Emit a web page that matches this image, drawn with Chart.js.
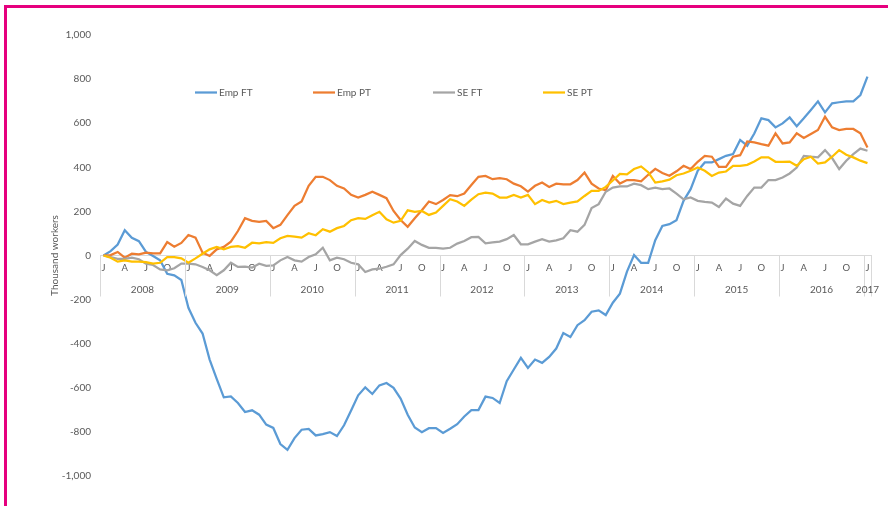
<!DOCTYPE html>
<html>
<head>
<meta charset="utf-8">
<script src="https://cdn.jsdelivr.net/npm/chart.js@4/dist/chart.umd.min.js"></script>
<style>
  html, body { margin: 0; padding: 0; background: #fff; overflow: hidden; }
  #frame { position: absolute; left: 4px; top: 5px; width: 1200px; height: 1200px; border: 3px solid #e6007e; }
  #chart { position: absolute; left: 0; top: 0; }
</style>
</head>
<body>
<div id="frame"></div>
<canvas id="chart" width="888" height="506"></canvas>
<script>
// ---- data: change in thousand workers since Jan 2008, monthly to Jan 2017 ----
const years = [2008, 2009, 2010, 2011, 2012, 2013, 2014, 2015, 2016, 2017];
const monthTicks = ['J', 'A', 'J', 'O'];
const seriesNames = ['Emp FT', 'Emp PT', 'SE FT', 'SE PT'];
const seriesColors = ['#5b9bd5', '#ed7d31', '#a5a5a5', '#ffc000'];

const empFT = [
  0, 20, 50, 115, 80, 65, 16, -2, -22, -83, -90, -111,
  -237, -305, -354, -472, -560, -643, -639, -669, -710, -702, -722, -767,
  -782, -855, -881, -828, -790, -786, -816, -810, -801, -819, -770, -703,
  -634, -598, -628, -589, -578, -600, -649, -722, -780, -801, -783, -783,
  -805, -786, -765, -730, -701, -701, -640, -646, -669, -570, -517, -464,
  -510, -472, -487, -460, -422, -352, -370, -316, -293, -255, -249, -270,
  -214, -173, -73, 2, -33, -33, 69, 134, 142, 160, 248, 301,
  384, 422, 422, 437, 452, 460, 524, 498, 553, 622, 614, 581,
  599, 626, 586, 622, 660, 699, 649, 690, 695, 699, 699, 728,
  811
];
const empPT = [
  0, 2, 16, -10, 8, 5, 13, 10, 10, 61, 40, 57,
  93, 81, 13, -2, 28, 39, 63, 111, 169, 157, 152, 157,
  124, 139, 183, 225, 245, 316, 357, 357, 342, 316, 304, 275,
  263, 275, 289, 275, 260, 202, 161, 130, 169, 205, 245, 233,
  252, 274, 269, 281, 320, 357, 361, 346, 351, 346, 326, 314,
  290, 316, 331, 311, 326, 323, 323, 342, 376, 326, 304, 296,
  361, 326, 342, 342, 336, 366, 393, 374, 362, 382, 407, 392,
  425, 452, 448, 402, 402, 448, 455, 517, 513, 505, 498, 554,
  508, 513, 554, 533, 551, 569, 629, 581, 569, 574, 574, 554,
  490
];
const seFT = [
  0, -7, -15, -15, -10, -17, -37, -43, -63, -67, -58, -37,
  -37, -40, -52, -67, -89, -67, -33, -52, -51, -55, -37, -47,
  -45, -22, -7, -22, -28, -7, 5, 35, -22, -10, -17, -33,
  -40, -75, -63, -60, -51, -40, 2, 31, 66, 48, 35, 35,
  31, 35, 54, 66, 83, 84, 55, 59, 63, 74, 93, 51,
  51, 63, 74, 63, 69, 78, 115, 108, 139, 215, 233, 289,
  308, 313, 313, 326, 319, 301, 308, 301, 304, 281, 255, 263,
  248, 243, 240, 220, 258, 235, 225, 270, 308, 308, 342, 342,
  354, 372, 399, 452, 448, 445, 478, 442, 392, 430, 460, 485,
  475
];
const sePT = [
  0, -10, -28, -22, -28, -28, -30, -37, -33, -7, -7, -13,
  -33, -13, 8, 28, 39, 28, 39, 42, 35, 58, 55, 61,
  57, 78, 89, 86, 81, 101, 92, 119, 108, 124, 134, 160,
  169, 166, 183, 198, 164, 149, 157, 205, 198, 202, 184, 195,
  225, 255, 245, 225, 253, 278, 285, 281, 263, 263, 275, 263,
  275, 233, 252, 240, 248, 233, 240, 245, 270, 293, 293, 311,
  340, 370, 368, 392, 404, 378, 331, 336, 344, 364, 372, 384,
  399, 384, 361, 376, 381, 407, 407, 411, 426, 445, 445, 425,
  425, 426, 407, 437, 448, 417, 422, 448, 478, 457, 445, 430,
  419
];

// one category per month, Jan 2008 .. Jan 2017
const labels = [];
years.forEach(y => { for (let m = 0; m < 12; m++) if (labels.length < empFT.length) labels.push(y + '-' + (m + 1)); });

const FONT = 'Lato, "Open Sans", sans-serif';
const TEXT = '#595959';
const AXIS = '#d9d9d9';

// year row under the month letters, with separators
const yearRow = {
  id: 'yearRow',
  afterDraw(chart) {
    const ctx = chart.ctx, xs = chart.scales.x;
    const y0 = chart.scales.y.getPixelForValue(0);
    const half = (xs.getPixelForValue(1) - xs.getPixelForValue(0)) / 2;
    ctx.save();
    ctx.strokeStyle = AXIS; ctx.lineWidth = 1;
    ctx.fillStyle = TEXT; ctx.font = '10px ' + FONT;
    ctx.textAlign = 'center'; ctx.textBaseline = 'middle';
    years.forEach((yr, k) => {
      const first = k * 12, last = Math.min(first + 11, labels.length - 1);
      const left = xs.getPixelForValue(first) - half;
      const right = xs.getPixelForValue(last) + half;
      ctx.beginPath(); ctx.moveTo(Math.round(left) + 0.5, y0); ctx.lineTo(Math.round(left) + 0.5, y0 + 41); ctx.stroke();
      if (k === years.length - 1) { ctx.beginPath(); ctx.moveTo(Math.round(right) + 0.5, y0); ctx.lineTo(Math.round(right) + 0.5, y0 + 41); ctx.stroke(); }
      ctx.fillText(String(yr), (left + right) / 2, y0 + 34.5);
    });
    ctx.restore();
  }
};

// legend drawn inside the plot, like the spreadsheet original
const innerLegend = {
  id: 'innerLegend',
  afterDraw(chart) {
    const ctx = chart.ctx;
    const xs = [195, 313, 433, 543], y = 92.5;
    ctx.save();
    ctx.font = '10px ' + FONT; ctx.textBaseline = 'middle'; ctx.fillStyle = TEXT;
    chart.data.datasets.forEach((ds, i) => {
      ctx.strokeStyle = ds.borderColor; ctx.lineWidth = 2.25;
      ctx.beginPath(); ctx.moveTo(xs[i], y); ctx.lineTo(xs[i] + 22, y); ctx.stroke();
      ctx.fillText(ds.label, xs[i] + 24, y + 0.5);
    });
    ctx.restore();
  }
};

const seriesData = [empFT, empPT, seFT, sePT];

new Chart(document.getElementById('chart').getContext('2d'), {
  type: 'line',
  data: {
    labels,
    datasets: seriesData.map((d, i) => ({
      label: seriesNames[i],
      data: d,
      borderColor: seriesColors[i],
      backgroundColor: seriesColors[i],
      borderWidth: 2.25,
      pointRadius: 0,
      tension: 0,
      fill: false,
      order: 3 - i
    }))
  },
  options: {
    responsive: false,
    animation: false,
    layout: { padding: { left: 0, top: 35, right: 17, bottom: 30 } },
    plugins: { legend: { display: false }, tooltip: { enabled: false } },
    scales: {
      x: {
        type: 'category',
        position: { y: 0 },
        offset: true,
        grid: { display: false, drawTicks: false },
        border: { display: true, color: AXIS, width: 1 },
        ticks: {
          autoSkip: false, maxRotation: 0, padding: 7,
          color: TEXT, font: { family: FONT, size: 9.5 },
          callback: (v, i) => (i % 3 === 0 ? monthTicks[(i % 12) / 3] : '')
        }
      },
      y: {
        min: -1000, max: 1000,
        grid: { display: false, drawTicks: false },
        border: { display: false },
        afterFit: s => { s.width = 100; },
        ticks: {
          stepSize: 200, padding: 9,
          color: TEXT, font: { family: FONT, size: 10 },
          callback: v => v.toLocaleString('en-US')
        },
        title: {
          display: true, text: 'Thousand workers',
          color: TEXT, font: { family: FONT, size: 10 },
          padding: { top: 49, bottom: 0 }
        }
      }
    }
  },
  plugins: [yearRow, innerLegend]
});
</script>
</body>
</html>
